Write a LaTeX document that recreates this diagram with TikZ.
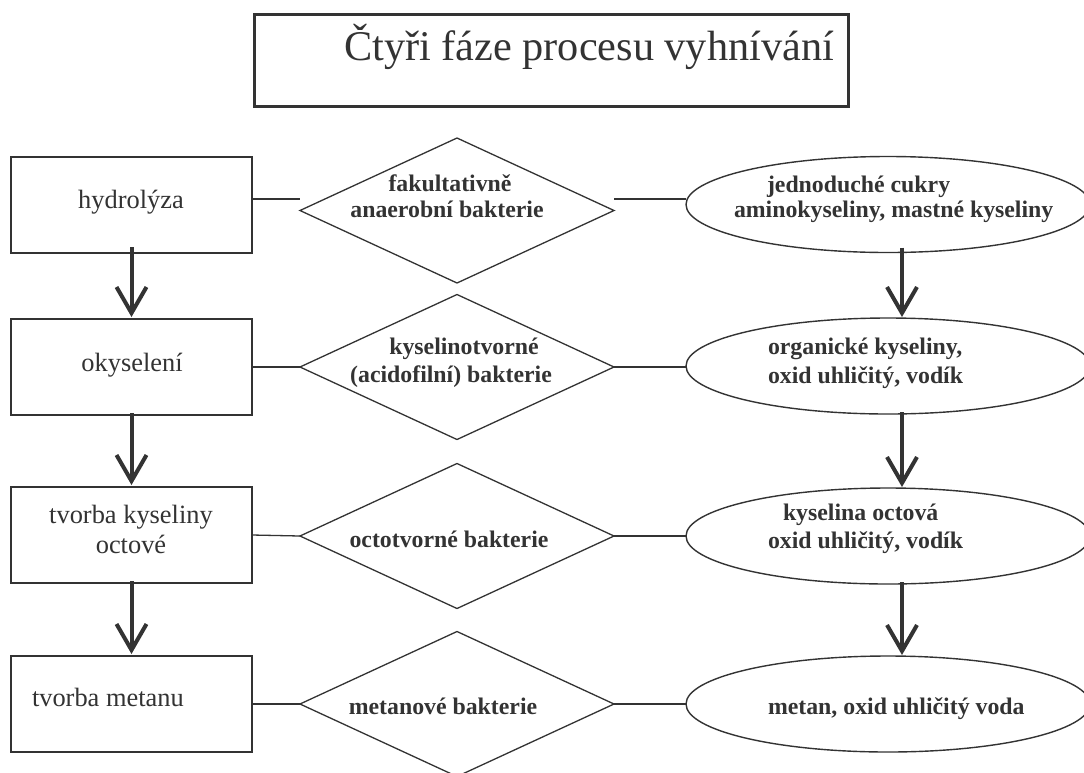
\documentclass[tikz,border=0pt]{standalone}
\usepackage{fontspec}
\setmainfont{Liberation Serif}
\usetikzlibrary{shapes.geometric,arrows.meta}
\definecolor{ink}{HTML}{333333}
\begin{document}
\begin{tikzpicture}[x=1pt,y=-1pt,
  every node/.style={inner sep=0pt, outer sep=0pt, text=ink},
  phasebox/.style={draw=ink, line width=1.3pt, minimum width=241pt, minimum height=96pt},
  bactbox/.style={draw=ink, line width=1.3pt, shape=diamond, minimum width=314pt, minimum height=145pt},
  prodbox/.style={draw=ink, line width=1.4pt, shape=ellipse, minimum width=404pt, minimum height=96pt},
  plain/.style={font=\fontsize{26.4}{30}\selectfont, anchor=base},
  bold/.style={font=\fontsize{23.8}{27}\selectfont\bfseries, anchor=base},
  link/.style={draw=ink, line width=1.3pt},
  flow/.style={draw=ink, line width=4pt, -{Straight Barb[length=26pt,width=30pt]}}
]
\useasboundingbox (0,0) rectangle (1084,772);
\fill[white] (0,0) rectangle (1084,772);

% title
\node[draw=ink, line width=3pt, minimum width=594pt, minimum height=92pt] (title) at (551,60) {};
\node[font=\fontsize{42.3}{50}\selectfont, anchor=base] (titletext) at (589,60) {Čtyři fáze procesu vyhnívání};

% phase boxes
\node[phasebox] (b1) at (131.5,205) {};
\node[phasebox] (b2) at (131.5,367) {};
\node[phasebox] (b3) at (131.5,535) {};
\node[phasebox] (b4) at (131.5,704) {};
\node[plain] (b1t) at (131,208) {hydrolýza};
\node[plain] (b2t) at (132,371) {okyselení};
\node[plain] (b3t) at (131,523) {tvorba kyseliny};
\node[plain] (b3u) at (131,553) {octové};
\node[plain, anchor=base west] (b4t) at (32,706) {tvorba metanu};

% bacteria diamonds
\node[bactbox] (d1) at (457,210.5) {};
\node[bactbox] (d2) at (457,367) {};
\node[bactbox] (d3) at (457,536) {};
\node[bactbox] (d4) at (457,704) {};
\node[bold] (d1t) at (450,191) {fakultativně};
\node[bold] (d1u) at (447,217) {anaerobní bakterie};
\node[bold] (d2t) at (464,354) {kyselinotvorné};
\node[bold] (d2u) at (451,382) {(acidofilní) bakterie};
\node[bold] (d3t) at (449,547) {octotvorné bakterie};
\node[bold] (d4t) at (443,714) {metanové bakterie};

% product ellipses
\node[prodbox] (e1) at (888,204.5) {};
\node[prodbox] (e2) at (888,366) {};
\node[prodbox] (e3) at (888,536) {};
\node[prodbox] (e4) at (888,704) {};
\node[bold, anchor=base west] (e1t) at (767,192) {jednoduché cukry};
\node[bold, anchor=base west] (e1u) at (734,217) {aminokyseliny, mastné kyseliny};
\node[bold, anchor=base west] (e2t) at (768,354) {organické kyseliny,};
\node[bold, anchor=base west] (e2u) at (768,383) {oxid uhličitý, vodík};
\node[bold, anchor=base west] (e3t) at (783,520) {kyselina octová};
\node[bold, anchor=base west] (e3u) at (768,548) {oxid uhličitý, vodík};
\node[bold, anchor=base west] (e4t) at (768,714) {metan, oxid uhličitý voda};

% horizontal links
\draw[link] ([yshift=6pt]b1.east) -- ([yshift=6pt]b1.east -| d1.west);
\draw[link] ([yshift=11.5pt]d1.east) -- ([yshift=11.5pt]d1.east -| e1.west);
\draw[link] (b2.east) -- (d2.west);
\draw[link] (d2.east) -- (d2.east -| e2.west);
\draw[link] (b3.east) -- (d3.west);
\draw[link] (d3.east) -- (d3.east -| e3.west);
\draw[link] (b4.east) -- (d4.west);
\draw[link] (d4.east) -- (d4.east -| e4.west);

% vertical flow arrows
\draw[flow] ([yshift=6pt]b1.south) -- ([yshift=2pt]b2.north);
\draw[flow] ([yshift=2pt]b2.south) -- ([yshift=2pt]b3.north);
\draw[flow] ([yshift=2pt]b3.south) -- ([yshift=2pt]b4.north);
\draw[flow] ([xshift=14pt,yshift=5pt]e1.south) -- ([xshift=14pt,yshift=1pt]e2.north);
\draw[flow] ([xshift=14pt,yshift=2pt]e2.south) -- ([xshift=14pt,yshift=1pt]e3.north);
\draw[flow] ([xshift=14pt,yshift=2pt]e3.south) -- ([xshift=14pt,yshift=1pt]e4.north);
\end{tikzpicture}
\end{document}
